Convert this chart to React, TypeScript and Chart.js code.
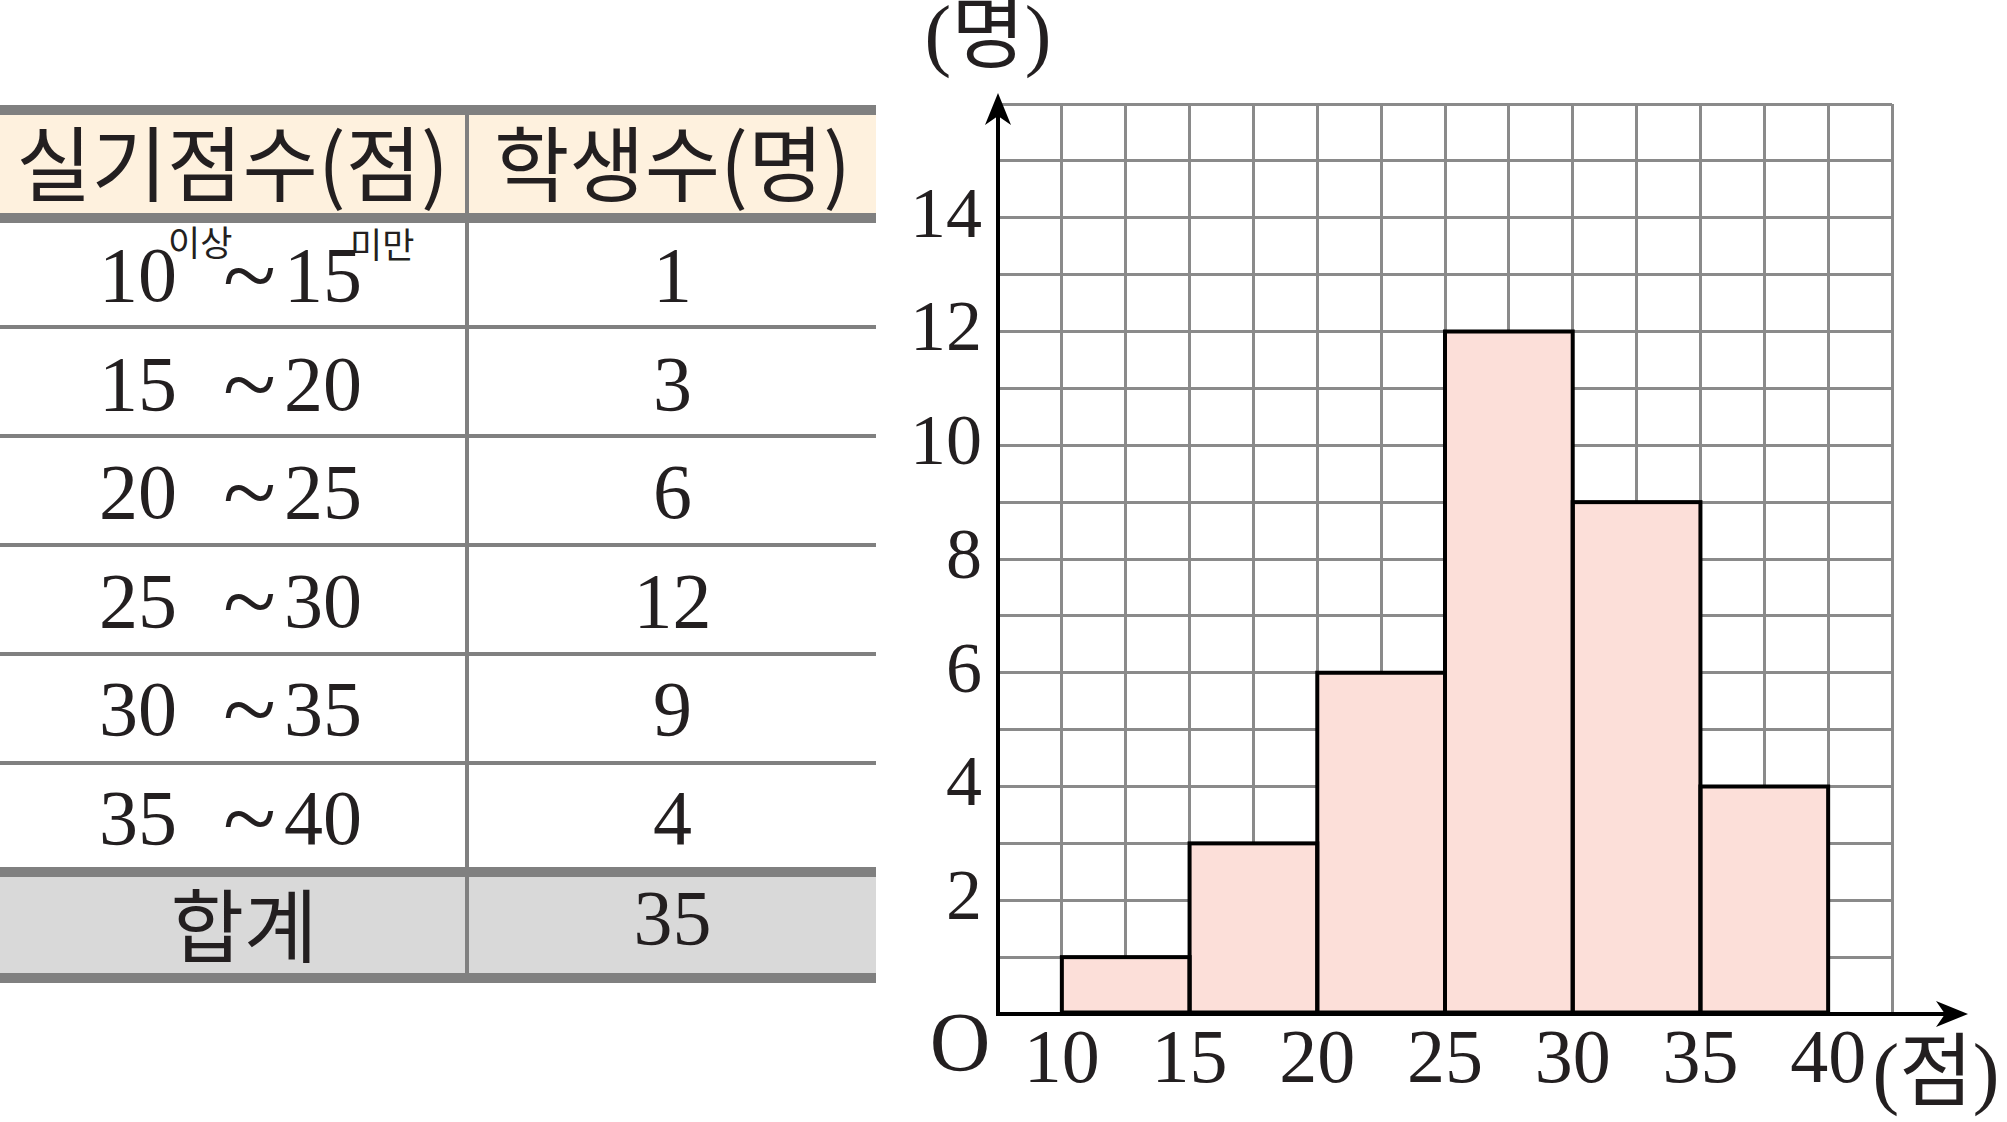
import React, { useEffect, useRef } from 'react';
import { Chart, registerables } from 'chart.js';

Chart.register(...registerables);

// ---- data ----
const classLow = [10, 15, 20, 25, 30, 35];
const classHigh = [15, 20, 25, 30, 35, 40];
const counts = [1, 3, 6, 12, 9, 4];
const headerLabels = ['실기점수(점)', '학생수(명)'];
const totalLabel = '합계';
const totalValue = 35;
const lowSuffix = '이상';
const highSuffix = '미만';
const rangeSep = '~';
const xTickLabels = [10, 15, 20, 25, 30, 35, 40];
const yTickLabels = [2, 4, 6, 8, 10, 12, 14];
const xUnit = '(점)';
const yUnit = '(명)';
const originLabel = 'O';
const xMin = 7.5;
const xMax = 42.5;
const xStep = 2.5;
const yMin = 0;
const yMax = 16;
const yStep = 1;

const TEXT = '#231f20';
const LINE_GRAY = '#808080';
const SERIF = '"Liberation Serif", "DejaVu Serif", serif';
const SANS = '"Noto Sans CJK KR", "Noto Sans", sans-serif';

const decorPlugin = {
  id: 'decor',
  afterDatasetsDraw(chart: any) {
    const { ctx } = chart;
    const meta = chart.getDatasetMeta(0);
    ctx.save();
    ctx.strokeStyle = '#000';
    ctx.lineWidth = 4;
    ctx.lineJoin = 'miter';
    meta.data.forEach((el: any) => {
      const p = el.getProps(['x', 'y', 'base', 'width'], true);
      ctx.strokeRect(p.x - p.width / 2, p.y, p.width, p.base - p.y);
    });
    ctx.restore();
  },
  afterDraw(chart: any) {
    const { ctx } = chart;
    const xs = chart.scales.x;
    const ys = chart.scales.y;
    const x0 = xs.getPixelForValue(xMin);
    const y0 = ys.getPixelForValue(yMin);
    const xr = xs.right;
    const yt = ys.top;
    ctx.save();
    ctx.strokeStyle = '#000';
    ctx.fillStyle = '#000';
    ctx.lineWidth = 4;
    ctx.beginPath();
    ctx.moveTo(x0 - 2, y0);
    ctx.lineTo(xr + 60, y0);
    ctx.stroke();
    ctx.beginPath();
    ctx.moveTo(x0, y0 + 2);
    ctx.lineTo(x0, yt + 5);
    ctx.stroke();
    const tipX = xr + 76;
    ctx.beginPath();
    ctx.moveTo(tipX, y0);
    ctx.lineTo(tipX - 32, y0 - 13);
    ctx.lineTo(tipX - 23, y0);
    ctx.lineTo(tipX - 32, y0 + 13);
    ctx.closePath();
    ctx.fill();
    const tipY = yt - 11;
    ctx.beginPath();
    ctx.moveTo(x0, tipY);
    ctx.lineTo(x0 - 13, tipY + 32);
    ctx.lineTo(x0, tipY + 23);
    ctx.lineTo(x0 + 13, tipY + 32);
    ctx.closePath();
    ctx.fill();

    ctx.fillStyle = TEXT;
    ctx.textAlign = 'center';
    ctx.textBaseline = 'middle';
    ctx.font = `84px ${SERIF}`;
    ctx.fillText(originLabel, x0 - 38, y0 + 35);
    ctx.font = `80px "Liberation Serif", "DejaVu Serif", "Noto Sans CJK KR"`;
    ctx.fillText(yUnit, x0 - 10, 40);
    ctx.fillText(xUnit, xr + 44, y0 + 64);
    ctx.restore();
  },
};

function Histogram() {
  const ref = useRef<HTMLCanvasElement | null>(null);
  useEffect(() => {
    if (!ref.current) return;
    const chart = new Chart(ref.current, {
      type: 'bar',
      data: {
        datasets: [
          {
            data: classLow.map((lo, i) => ({ x: (lo + classHigh[i]) / 2, y: counts[i] })),
            backgroundColor: '#fcdfd9',
            borderWidth: 0,
            barPercentage: 2,
            categoryPercentage: 1,
          } as any,
        ],
      },
      options: {
        responsive: false,
        animation: false,
        devicePixelRatio: 1,
        layout: { padding: { top: 104, right: 115, left: 0, bottom: 0 } },
        plugins: { legend: { display: false }, tooltip: { enabled: false } },
        scales: {
          x: {
            type: 'linear',
            min: xMin,
            max: xMax,
            offset: false,
            grid: { offset: false, color: '#8a8a8a', lineWidth: 3, drawTicks: false },
            border: { display: false },
            ticks: {
              stepSize: xStep,
              autoSkip: false,
              maxRotation: 0,
              minRotation: 0,
              padding: 10,
              color: TEXT,
              font: { family: SERIF, size: 76, lineHeight: 1 },
              callback: (v: any) => (xTickLabels.includes(Number(v)) ? String(v) : ''),
            },
            afterFit: (s: any) => {
              s.height = 108;
            },
          },
          y: {
            type: 'linear',
            min: yMin,
            max: yMax,
            grid: { color: '#8a8a8a', lineWidth: 3, drawTicks: false },
            border: { display: false },
            ticks: {
              stepSize: yStep,
              autoSkip: false,
              padding: 16,
              color: TEXT,
              font: { family: SERIF, size: 72, lineHeight: 1 },
              callback: (v: any) => (yTickLabels.includes(Number(v)) ? String(v) : ''),
            },
            afterFit: (s: any) => {
              s.width = 118;
            },
          },
        },
      } as any,
      plugins: [decorPlugin],
    });
    return () => chart.destroy();
  }, []);
  return (
    <canvas
      ref={ref}
      width={1127}
      height={1122}
      style={{ position: 'absolute', left: 880, top: 0, width: 1127, height: 1122 }}
    />
  );
}

function Bar({ top, height }: { top: number; height: number }) {
  return <div style={{ position: 'absolute', left: 0, width: 876, top, height, background: LINE_GRAY }} />;
}

function FreqTable() {
  const rowCenter = (i: number) => 275 + 108.5 * i;
  return (
    <>
      <Bar top={105} height={10} />
      <div style={{ position: 'absolute', left: 0, width: 876, top: 115, height: 98, background: '#fef1de' }} />
      <Bar top={213} height={10} />
      {classLow.slice(0, -1).map((_, i) => (
        <div
          key={'l' + i}
          style={{ position: 'absolute', left: 0, width: 876, top: 325 + 109 * i, height: 4, background: LINE_GRAY }}
        />
      ))}
      <Bar top={867} height={10} />
      <div style={{ position: 'absolute', left: 0, width: 876, top: 877, height: 96, background: '#d9d9d9' }} />
      <Bar top={973} height={10} />
      <div style={{ position: 'absolute', left: 465, width: 4, top: 115, height: 858, background: LINE_GRAY }} />

      {headerLabels.map((h, i) => (
        <div
          key={h}
          style={{
            position: 'absolute',
            left: i === 0 ? 0 : 469,
            width: i === 0 ? 465 : 407,
            top: 111,
            height: 98,
            lineHeight: '98px',
            textAlign: 'center',
            fontFamily: SANS,
            fontSize: 82,
            color: TEXT,
            whiteSpace: 'nowrap',
          }}
        >
          {h}
        </div>
      ))}

      {classLow.map((lo, i) => {
        const c = rowCenter(i);
        const common: React.CSSProperties = {
          position: 'absolute',
          top: c - 50,
          height: 100,
          lineHeight: '100px',
          fontFamily: SERIF,
          fontSize: 78,
          color: TEXT,
          whiteSpace: 'nowrap',
        };
        return (
          <React.Fragment key={'r' + i}>
            <div style={{ ...common, left: 0, width: 177, textAlign: 'right' }}>{lo}</div>
            <div style={{ ...common, left: 223, fontSize: 98, top: c - 50 }}>{rangeSep}</div>
            <div style={{ ...common, left: 0, width: 362, textAlign: 'right' }}>{classHigh[i]}</div>
            <div style={{ ...common, left: 469, width: 407, textAlign: 'center' }}>{counts[i]}</div>
          </React.Fragment>
        );
      })}
      <div
        style={{
          position: 'absolute',
          left: 168,
          top: 220,
          fontFamily: SANS,
          fontSize: 35,
          lineHeight: '42px',
          color: TEXT,
          whiteSpace: 'nowrap',
        }}
      >
        {lowSuffix}
      </div>
      <div
        style={{
          position: 'absolute',
          left: 350,
          top: 222,
          fontFamily: SANS,
          fontSize: 35,
          lineHeight: '42px',
          color: TEXT,
          whiteSpace: 'nowrap',
        }}
      >
        {highSuffix}
      </div>

      <div
        style={{
          position: 'absolute',
          left: 0,
          width: 488,
          top: 871,
          height: 100,
          lineHeight: '100px',
          textAlign: 'center',
          fontFamily: SANS,
          fontSize: 80,
          color: TEXT,
        }}
      >
        {totalLabel}
      </div>
      <div
        style={{
          position: 'absolute',
          left: 469,
          width: 407,
          top: 868,
          height: 100,
          lineHeight: '100px',
          textAlign: 'center',
          fontFamily: SERIF,
          fontSize: 78,
          color: TEXT,
        }}
      >
        {totalValue}
      </div>
    </>
  );
}

export default function App() {
  return (
    <div style={{ position: 'absolute', left: 0, top: 0, width: 2007, height: 1122, background: '#fff', overflow: 'hidden' }}>
      <FreqTable />
      <Histogram />
    </div>
  );
}
